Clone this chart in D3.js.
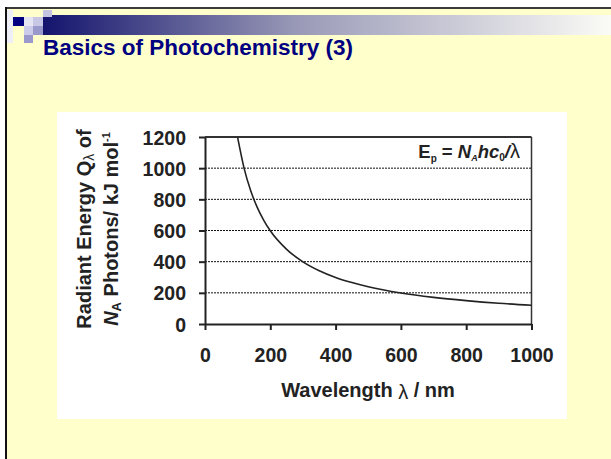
<!DOCTYPE html>
<html><head><meta charset="utf-8">
<script src="https://cdn.jsdelivr.net/npm/d3@7"></script>
<style>
html,body{margin:0;padding:0;background:#fff;}
svg{display:block;font-family:"Liberation Sans",Arial,sans-serif;}
</style></head>
<body><svg id="c" width="611" height="459"></svg>
<script>
// Data
const wavelengths = [100,120,140,160,180,200,250,300,350,400,450,500,600,700,800,900,1000];
const energies    = [1196,997,855,748,665,598,479,399,342,299,266,239,199,171,150,133,120];
const xTicks = [0,200,400,600,800,1000];
const yTicks = [0,200,400,600,800,1000,1200];
const gridValues = [200,400,600,800,1000];
const titleText = "Basics of Photochemistry (3)";
const xLabel = "Wavelength ";

const svg = d3.select("#c");

// slide background
svg.append("rect").attr("x",0).attr("y",0).attr("width",611).attr("height",459).attr("fill","#ffffff");
svg.append("rect").attr("x",6).attr("y",8).attr("width",605).attr("height",451).attr("fill","#ffffcc");
svg.append("rect").attr("x",5).attr("y",7).attr("width",606).attr("height",2).attr("fill","#3a3a3a");
svg.append("rect").attr("x",5).attr("y",7).attr("width",2).attr("height",452).attr("fill","#111");

// header gradient bar
const defs = svg.append("defs");
const g = defs.append("linearGradient").attr("id","hdr").attr("x1","0").attr("x2","1").attr("y1","0").attr("y2","0");
g.append("stop").attr("offset","0").attr("stop-color","#14146e");
g.append("stop").attr("offset","0.45").attr("stop-color","#9a9ab8");
g.append("stop").attr("offset","1").attr("stop-color","#fbfbf6");
svg.append("rect").attr("x",43).attr("y",15).attr("width",568).attr("height",20).attr("fill","url(#hdr)");

// decorative squares
const squares = [
  [7,10,6,33,"#eeeef6"],
  [13,17,11,9,"#000080"],
  [24,17,9,9,"#e4e4f2"],
  [33,17,10,9,"#c8c8e6"],
  [43,10,9,7,"#c4c4e0"],
  [24,26,9,9,"#ccccea"],
  [33,26,10,9,"#9999cc"],
  [24,35,9,8,"#9999cc"]
];
svg.selectAll("rect.sq").data(squares).enter().append("rect").attr("class","sq")
  .attr("x",d=>d[0]).attr("y",d=>d[1]).attr("width",d=>d[2]).attr("height",d=>d[3]).attr("fill",d=>d[4]);

// title
svg.append("text").attr("x",43).attr("y",55).attr("font-size",22.5).attr("font-weight","bold")
  .attr("fill","#000080").text(titleText);

// chart white box
svg.append("rect").attr("x",57).attr("y",112).attr("width",510).attr("height",307).attr("fill","#ffffff");

const x = d3.scaleLinear().domain([0,1000]).range([205,531.5]);
const y = d3.scaleLinear().domain([0,1200]).range([324,137]);

// gridlines
svg.selectAll("line.grid").data(gridValues).enter().append("line").attr("class","grid")
  .attr("x1",x(0)).attr("x2",x(1000)).attr("y1",d=>y(d)).attr("y2",d=>y(d))
  .attr("stroke","#111").attr("stroke-width",1).attr("stroke-dasharray","2,1");

// top and right border
svg.append("line").attr("x1",x(0)).attr("x2",x(1000)).attr("y1",y(1200)).attr("y2",y(1200)).attr("stroke","#333").attr("stroke-width",2);
svg.append("line").attr("x1",x(1000)).attr("x2",x(1000)).attr("y1",y(1200)).attr("y2",y(0)).attr("stroke","#333").attr("stroke-width",1.5);

// axes
const fmt = d3.format("d");
const xAxis = d3.axisBottom(x).tickValues(xTicks).tickFormat(fmt).tickSize(6).tickPadding(22).tickSizeOuter(0);
const yAxis = d3.axisLeft(y).tickValues(yTicks).tickFormat(fmt).tickSize(6).tickPadding(13).tickSizeOuter(0);
const gx = svg.append("g").attr("transform",`translate(0,${y(0)})`).call(xAxis);
const gy = svg.append("g").attr("transform",`translate(${x(0)},0)`).call(yAxis);
[gx,gy].forEach(a=>{
  a.select(".domain").attr("stroke","#222").attr("stroke-width",2);
  a.selectAll(".tick line").attr("stroke","#222").attr("stroke-width",2);
  a.selectAll(".tick text").attr("font-size",19.5).attr("font-weight","bold").attr("fill","#222")
    .attr("font-family","Liberation Sans, Arial, sans-serif");
});
gx.selectAll(".tick text").attr("dy","0.5em");
gy.selectAll(".tick text").attr("dy","0.36em");

// curve
const pts = wavelengths.map((w,i)=>[w,energies[i]]);
svg.append("path").datum(pts)
  .attr("d",d3.line().x(d=>x(d[0])).y(d=>y(d[1])).curve(d3.curveMonotoneX))
  .attr("fill","none").attr("stroke","#222").attr("stroke-width",1.6);

// formula
const f = svg.append("text").attr("x",520).attr("y",158).attr("text-anchor","end")
  .attr("font-size",18.5).attr("font-weight","bold").attr("fill","#222");
f.append("tspan").text("E");
f.append("tspan").attr("font-size",10).attr("dy",4).text("p");
f.append("tspan").attr("dy",-4).text(" = ");
f.append("tspan").attr("font-style","italic").text("N");
f.append("tspan").attr("font-size",9).attr("font-style","italic").attr("dy",3).text("A");
f.append("tspan").attr("font-style","italic").attr("dy",-3).text("hc");
f.append("tspan").attr("font-size",10).attr("dy",3).text("0");
f.append("tspan").attr("font-style","italic").attr("dy",-3).text("/");
f.append("tspan").attr("font-weight","normal").attr("font-size",20).text("\u03bb");

// x axis label
const xl = svg.append("text").attr("x",368).attr("y",397).attr("text-anchor","middle")
  .attr("font-size",20).attr("font-weight","bold").attr("fill","#222");
xl.append("tspan").text(xLabel);
xl.append("tspan").attr("font-weight","normal").attr("dy",2).text("\u03bb");
xl.append("tspan").attr("dy",-2).text(" / nm");

// y axis label (two lines, rotated)
const yl = svg.append("g").attr("transform","translate(91,229) rotate(-90)");
const t1 = yl.append("text").attr("text-anchor","middle").attr("font-size",20).attr("font-weight","bold").attr("fill","#222");
t1.append("tspan").text("Radiant Energy Q");
t1.append("tspan").attr("font-size",14).attr("font-weight","normal").attr("dy",3).text("\u03bb");
t1.append("tspan").attr("dy",-3).text(" of");
const t2 = yl.append("text").attr("y",27).attr("text-anchor","middle").attr("font-size",20).attr("font-weight","bold").attr("fill","#222");
t2.append("tspan").attr("font-style","italic").text("N");
t2.append("tspan").attr("font-size",13).attr("dy",3).text("A");
t2.append("tspan").attr("dy",-3).text(" Photons/ kJ mol");
t2.append("tspan").attr("font-size",11).attr("dy",-8).text("-1");
</script></body></html>
